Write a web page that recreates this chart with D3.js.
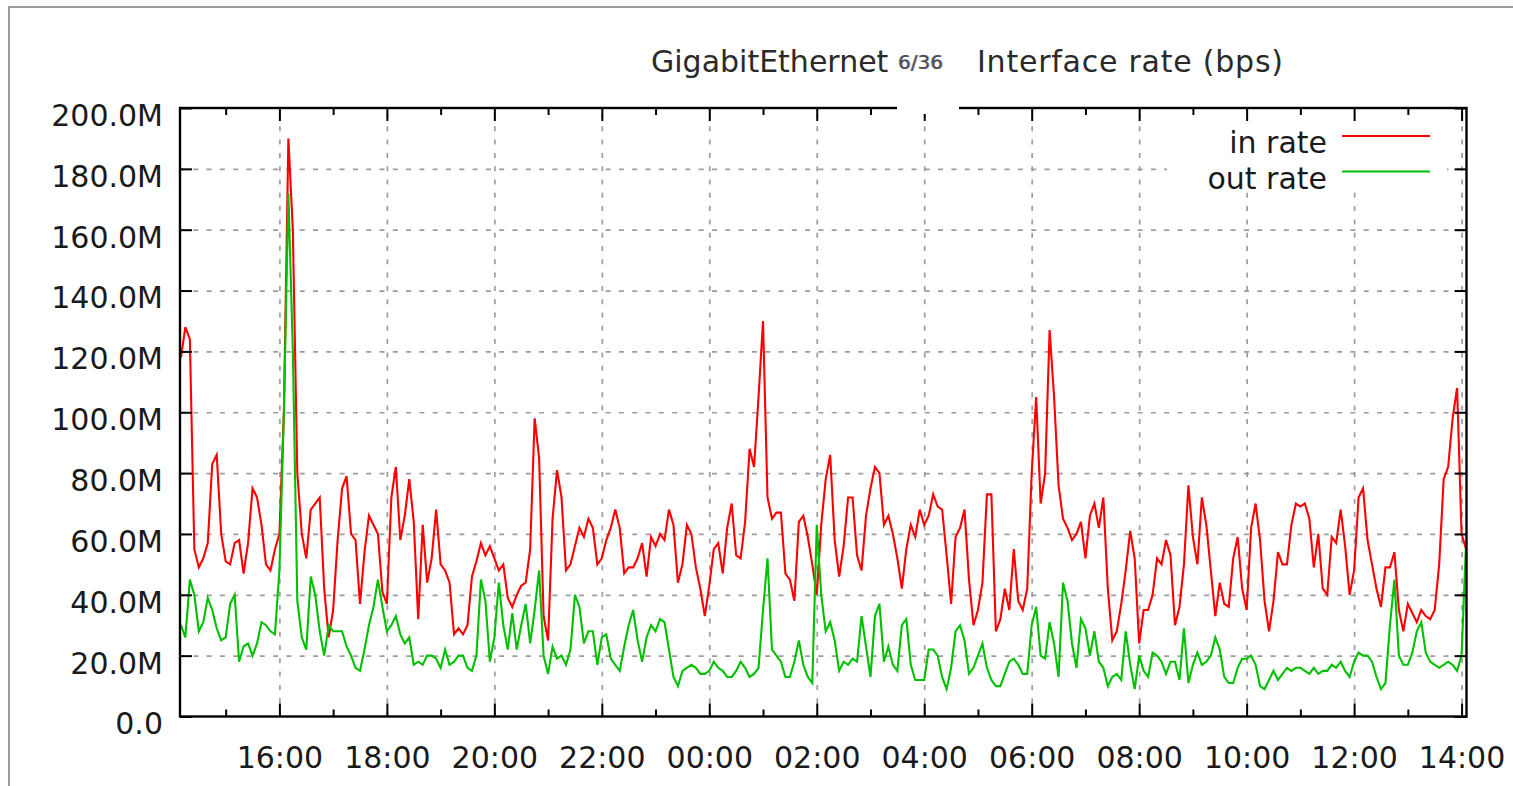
<!DOCTYPE html>
<html>
<head>
<meta charset="utf-8">
<script src="https://cdn.jsdelivr.net/npm/d3@7"></script>
<style>
  html, body { margin: 0; padding: 0; background: #fff; overflow: hidden; }
  svg { display: block; font-family: "DejaVu Sans", Verdana, sans-serif; }
</style>
</head>
<body>
<div id="container"></div>
<script>
// title pieces and legend
const titleLeft = 'GigabitEthernet';
const titlePort = '6/36';
const titleRight = 'Interface rate (bps)';
const seriesNames = ['in rate', 'out rate'];
const seriesColors = ['#ff0000', '#00c000'];

// y ticks (Mbps)
const yTicks = [0, 20, 40, 60, 80, 100, 120, 140, 160, 180, 200];

// samples every 5 minutes, first one at 14:10
const sampleStart = new Date(2013, 4, 14, 14, 10);
const sampleMinutes = 5;

// in rate, Mbps
const inRate = [
  118, 128, 124, 55, 49, 52, 57, 83, 86, 60,
  51, 50, 57, 58, 47, 57, 75, 72, 63, 50,
  48, 55, 60, 100, 190, 160, 80, 60, 52, 68,
  70, 72, 42, 26, 35, 58, 75, 79, 60, 58,
  37, 54, 66, 63, 60, 41, 37, 72, 82, 58,
  66, 78, 64, 32, 63, 44, 52, 68, 50, 48,
  44, 27, 29, 27, 30, 46, 51, 57, 53, 56,
  52, 48, 50, 39, 36, 40, 43, 44, 55, 98,
  85, 33, 25, 65, 81, 72, 48, 50, 56, 62,
  59, 65, 62, 50, 52, 58, 62, 68, 62, 47,
  49, 49, 52, 57, 46, 59, 56, 60, 58, 68,
  63, 44, 50, 63, 60, 49, 42, 33, 43, 55,
  57, 47, 62, 70, 53, 52, 64, 88, 82, 105,
  130, 72, 65, 67, 67, 47, 45, 38, 64, 66,
  59, 50, 40, 63, 78, 86, 58, 46, 56, 72,
  72, 53, 48, 66, 75, 82, 80, 63, 66, 60,
  52, 42, 55, 63, 59, 68, 63, 66, 73, 69,
  68, 53, 37, 59, 62, 68, 45, 30, 35, 44,
  73, 73, 28, 32, 42, 35, 55, 38, 35, 42,
  80, 105, 70, 80, 127, 105, 76, 65, 62, 58,
  60, 64, 52, 66, 70, 62, 72, 42, 25, 28,
  37, 48, 61, 52, 24, 35, 35, 40, 52, 50,
  58, 53, 30, 36, 50, 76, 59, 50, 72, 63,
  48, 33, 44, 37, 36, 52, 59, 42, 35, 62,
  70, 58, 38, 28, 38, 54, 50, 50, 63, 70,
  69, 70, 65, 49, 60, 42, 40, 59, 57, 68,
  56, 40, 48, 72, 75, 58, 50, 42, 36, 49,
  49, 54, 35, 28, 37, 34, 31, 35, 33, 32,
  35, 50, 78, 82, 98, 108, 60, 55
];

// out rate, Mbps
const outRate = [
  30, 26, 45, 40, 28, 31, 39, 35, 29, 25,
  26, 37, 40, 18, 23, 24, 20, 24, 31, 30,
  28, 27, 48, 100, 172, 120, 38, 26, 22, 46,
  40, 28, 20, 30, 28, 28, 28, 23, 20, 16,
  15, 22, 30, 36, 45, 36, 28, 30, 33, 27,
  24, 26, 17, 18, 17, 20, 20, 19, 16, 22,
  17, 18, 20, 20, 16, 15, 20, 45, 38, 18,
  26, 44, 30, 22, 34, 22, 30, 37, 24, 35,
  48, 20, 14, 23, 19, 20, 17, 22, 40, 36,
  24, 28, 28, 17, 26, 27, 19, 17, 15, 23,
  30, 35, 25, 18, 26, 30, 28, 32, 31, 22,
  13, 10, 15, 16, 17, 16, 14, 14, 15, 18,
  16, 15, 13, 13, 15, 18, 16, 13, 14, 16,
  35, 52, 22, 20, 18, 13, 13, 18, 25, 17,
  13, 11, 63, 40, 28, 31, 25, 15, 18, 17,
  19, 18, 33, 23, 13, 33, 37, 18, 23, 17,
  15, 30, 32, 17, 12, 12, 12, 22, 22, 20,
  13, 9, 16, 28, 30, 25, 14, 16, 20, 24,
  16, 12, 10, 10, 14, 18, 19, 17, 14, 14,
  30, 36, 20, 19, 31, 24, 13, 44, 38, 24,
  16, 32, 29, 20, 28, 18, 16, 10, 13, 14,
  12, 28, 17, 9, 20, 15, 13, 21, 20, 18,
  14, 18, 18, 12, 29, 11, 17, 21, 17, 18,
  20, 26, 22, 13, 11, 11, 16, 19, 19, 20,
  17, 10, 9, 12, 15, 12, 14, 16, 15, 16,
  16, 15, 14, 16, 14, 15, 15, 17, 16, 18,
  15, 13, 18, 21, 20, 20, 18, 13, 9, 11,
  30, 45, 20, 17, 17, 21, 28, 31, 21, 18,
  17, 16, 17, 18, 17, 15, 20, 57
];

const times = inRate.map((d, i) => new Date(sampleStart.getTime() + i * sampleMinutes * 60000));

const w = 1513;
const h = 786;
const plotLeft = 180;
const plotRight = 1466.5;
const plotTop = 108;
const plotBottom = 716.5;

const svg = d3
  .select('#container')
  .append('svg')
  .attr('width', w)
  .attr('height', h);

// outer grey frame of the screenshot
svg
  .append('rect')
  .attr('x', 9)
  .attr('y', 7)
  .attr('width', w + 50)
  .attr('height', h + 50)
  .attr('fill', 'none')
  .attr('stroke', '#9a9a9a')
  .attr('stroke-width', 2);

const xScale = d3
  .scaleTime()
  .domain([new Date(2013, 4, 14, 14, 9), new Date(2013, 4, 15, 14, 5, 30)])
  .range([plotLeft, plotRight]);

const yScale = d3.scaleLinear().domain([0, 200]).range([plotBottom, plotTop]);

const majorHours = d3.timeHour.every(2);
const minorHours = xScale.ticks(d3.timeHour.every(1)).filter(d => d.getHours() % 2 === 1);

// grid
const gridX = svg
  .append('g')
  .attr('transform', `translate(0,${plotBottom})`)
  .call(d3.axisBottom(xScale).ticks(majorHours).tickSize(-(plotBottom - plotTop)).tickFormat(''));
const gridY = svg
  .append('g')
  .attr('transform', `translate(${plotLeft},0)`)
  .call(d3.axisLeft(yScale).tickValues(yTicks.slice(1, -1)).tickSize(-(plotRight - plotLeft)).tickFormat(''));
[gridX, gridY].forEach(g => {
  g.select('.domain').remove();
  g.selectAll('line')
    .attr('stroke', '#9c9c9c')
    .attr('stroke-width', 1.7)
    .attr('stroke-dasharray', '5,8.3');
});

// legend background hides the grid behind it
svg
  .append('rect')
  .attr('x', 1167)
  .attr('y', plotTop + 1)
  .attr('width', 280)
  .attr('height', 77)
  .attr('fill', '#fff');

// data lines
const line = d3
  .line()
  .x((d, i) => xScale(times[i]))
  .y(d => yScale(d));

[inRate, outRate].forEach((series, k) => {
  svg
    .append('path')
    .datum(series)
    .attr('d', line)
    .attr('fill', 'none')
    .attr('stroke', seriesColors[k])
    .attr('stroke-width', 2.1);
});

// axes: ticks on all four sides, pointing inward
const xAxisBottom = svg
  .append('g')
  .attr('transform', `translate(0,${plotBottom})`)
  .call(
    d3.axisBottom(xScale).ticks(majorHours).tickSize(-13).tickPadding(30).tickFormat(d3.timeFormat('%H:%M'))
  );
const xMinorBottom = svg
  .append('g')
  .attr('transform', `translate(0,${plotBottom})`)
  .call(d3.axisBottom(xScale).tickValues(minorHours).tickSize(-7).tickFormat(''));
const xAxisTop = svg
  .append('g')
  .attr('transform', `translate(0,${plotTop})`)
  .call(d3.axisTop(xScale).ticks(majorHours).tickSize(-13).tickFormat(''));
const xMinorTop = svg
  .append('g')
  .attr('transform', `translate(0,${plotTop})`)
  .call(d3.axisTop(xScale).tickValues(minorHours).tickSize(-7).tickFormat(''));
const yAxisLeft = svg
  .append('g')
  .attr('transform', `translate(${plotLeft},0)`)
  .call(
    d3.axisLeft(yScale)
      .tickValues(yTicks)
      .tickSize(-12)
      .tickPadding(17)
      .tickFormat(d => (d === 0 ? '0.0' : d.toFixed(1) + 'M'))
  );
const yAxisRight = svg
  .append('g')
  .attr('transform', `translate(${plotRight},0)`)
  .call(d3.axisRight(yScale).tickValues(yTicks).tickSize(-12).tickFormat(''));

[xAxisBottom, xMinorBottom, xAxisTop, xMinorTop, yAxisLeft, yAxisRight].forEach(g => {
  g.select('.domain').remove();
  g.selectAll('line').attr('stroke', '#000').attr('stroke-width', 2);
  g.selectAll('text')
    .attr('font-family', '"DejaVu Sans", Verdana, sans-serif')
    .attr('font-size', 30)
    .attr('fill', '#1a1a1a');
});
yAxisLeft.selectAll('text').attr('dy', '0.58em');

// plot border
svg
  .append('rect')
  .attr('x', plotLeft)
  .attr('y', plotTop)
  .attr('width', plotRight - plotLeft)
  .attr('height', plotBottom - plotTop)
  .attr('fill', 'none')
  .attr('stroke', '#000')
  .attr('stroke-width', 2.4);

// legend
const legend = svg
  .selectAll('.legend')
  .data(seriesNames)
  .enter()
  .append('g')
  .attr('class', 'legend')
  .attr('transform', (d, i) => `translate(0,${i * 35.5})`);

legend
  .append('text')
  .attr('x', 1327)
  .attr('y', 153)
  .attr('text-anchor', 'end')
  .attr('font-size', 30)
  .attr('fill', '#1a1a1a')
  .text(d => d);

legend
  .append('line')
  .attr('x1', 1342)
  .attr('x2', 1430)
  .attr('y1', 136)
  .attr('y2', 136)
  .attr('stroke', (d, i) => seriesColors[i])
  .attr('stroke-width', 2);

// title; the port number sits on a white patch pasted over the top border
svg
  .append('text')
  .attr('x', 651)
  .attr('y', 72)
  .attr('font-size', 30)
  .attr('fill', '#2a2a2a')
  .text(titleLeft);

svg
  .append('rect')
  .attr('x', 897)
  .attr('y', 40)
  .attr('width', 62)
  .attr('height', 74)
  .attr('fill', '#fff');

[['#e0903a', -0.7, 0.55], ['#4070d0', 0.7, 0.55], ['#4a4a58', 0, 1]].forEach(([c, dx, op]) => {
  svg
    .append('text')
    .attr('x', 898 + dx)
    .attr('y', 69)
    .attr('font-size', 20)
    .attr('fill', c)
    .attr('opacity', op)
    .text(titlePort);
});

svg
  .append('text')
  .attr('x', 977)
  .attr('y', 72)
  .attr('font-size', 30)
  .attr('fill', '#2a2a2a')
  .attr('textLength', 306)
  .attr('lengthAdjust', 'spacing')
  .text(titleRight);
</script>
</body>
</html>
